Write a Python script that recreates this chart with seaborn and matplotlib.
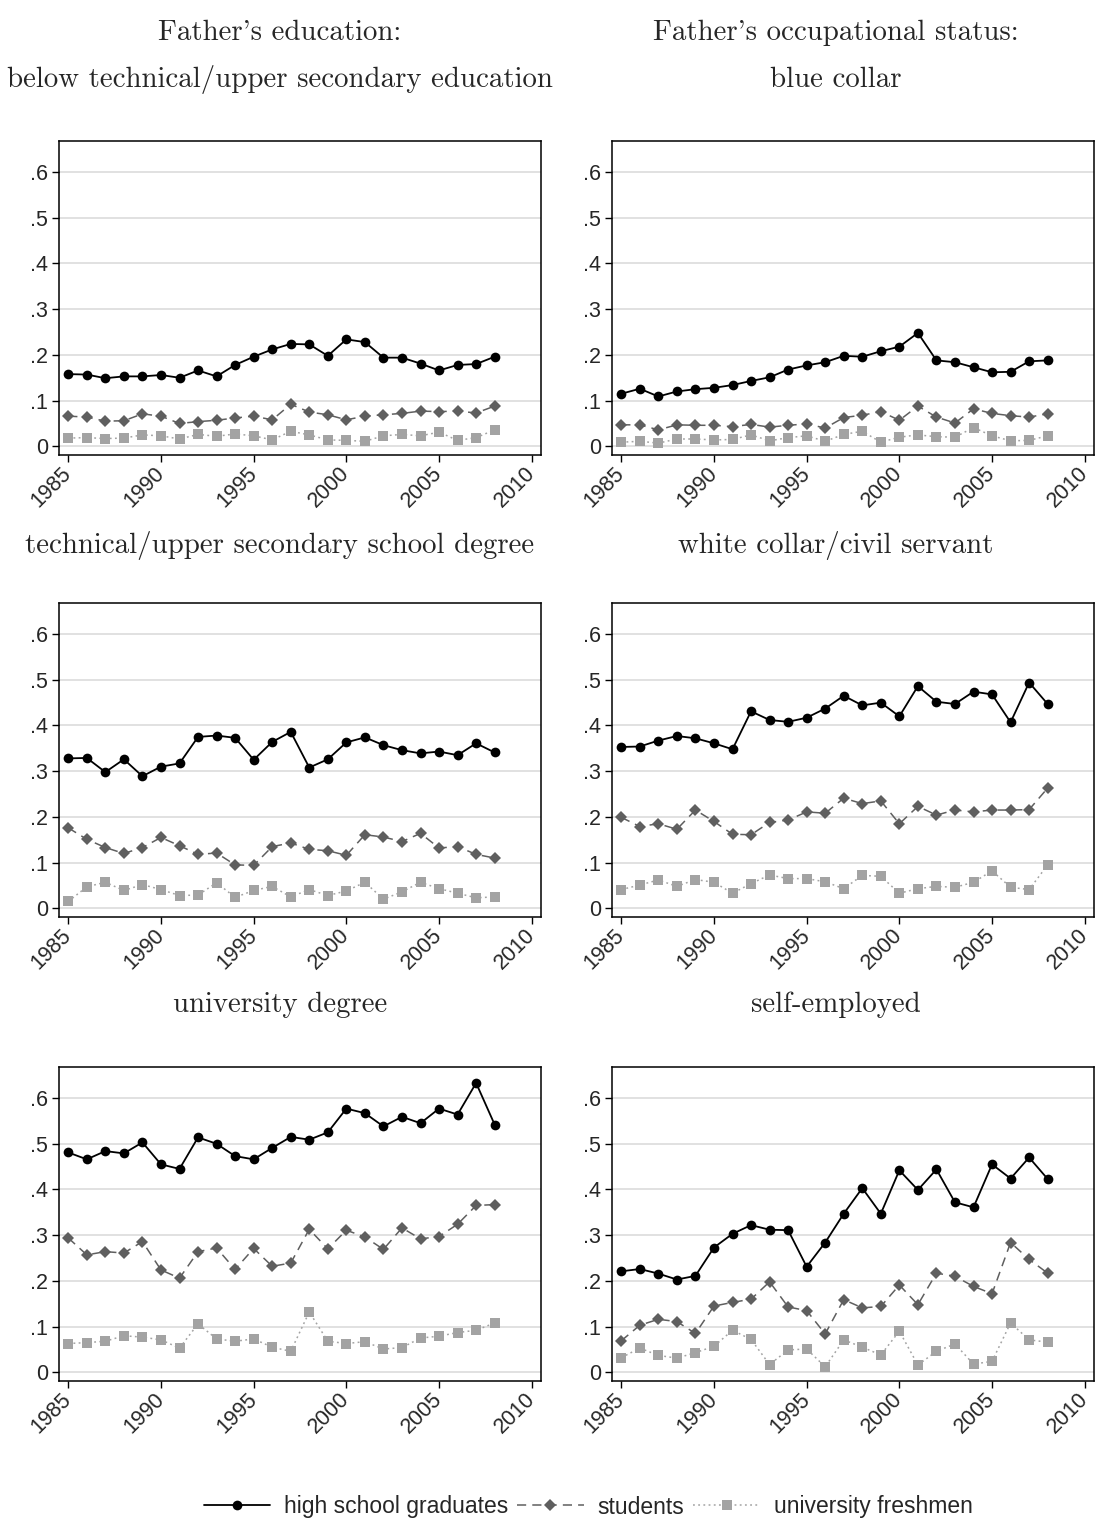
import numpy as np
import pandas as pd
import matplotlib
matplotlib.use("Agg")
import matplotlib.pyplot as plt
import seaborn as sns

years = list(range(1985, 2009))

# Father's education: below technical/upper secondary education
hs_below = [.158, .157, .149, .153, .153, .156, .150, .166, .153, .178, .196, .212,
            .224, .223, .198, .234, .228, .194, .194, .181, .166, .178, .180, .196]
st_below = [.066, .064, .055, .056, .071, .066, .050, .054, .057, .062, .066, .058,
            .092, .075, .069, .058, .066, .069, .072, .077, .076, .077, .073, .088]
fr_below = [.018, .019, .017, .018, .025, .023, .016, .026, .022, .027, .023, .014,
            .033, .025, .014, .013, .011, .023, .026, .023, .031, .013, .019, .036]

# Father's education: technical/upper secondary school degree
hs_tech = [.328, .329, .298, .326, .289, .310, .317, .375, .378, .373, .325, .364,
           .386, .308, .326, .363, .374, .357, .346, .339, .343, .335, .361, .341]
st_tech = [.176, .151, .133, .120, .133, .155, .137, .118, .121, .095, .094, .135,
           .143, .129, .126, .116, .161, .156, .146, .164, .132, .135, .118, .110]
fr_tech = [.015, .047, .057, .039, .052, .041, .028, .029, .056, .024, .039, .048,
           .025, .041, .028, .038, .057, .020, .036, .057, .043, .033, .023, .025]

# Father's education: university degree
hs_univ = [.481, .466, .484, .479, .503, .455, .445, .514, .500, .473, .466, .491,
           .515, .509, .525, .577, .567, .538, .559, .545, .577, .564, .633, .542]
st_univ = [.294, .257, .264, .261, .286, .224, .206, .264, .272, .225, .271, .232,
           .239, .313, .270, .311, .296, .269, .316, .292, .297, .324, .365, .367]
fr_univ = [.063, .065, .068, .080, .077, .071, .053, .106, .073, .068, .073, .055,
           .046, .132, .068, .063, .067, .051, .054, .075, .079, .087, .092, .108]

# Father's occupational status: blue collar
hs_blue = [.115, .126, .109, .120, .125, .128, .134, .143, .151, .168, .177, .184,
           .198, .196, .208, .218, .248, .188, .184, .173, .162, .163, .186, .188]
st_blue = [.047, .047, .036, .047, .046, .046, .043, .048, .042, .046, .049, .040,
           .063, .068, .076, .057, .088, .064, .051, .082, .072, .067, .064, .071]
fr_blue = [.009, .011, .007, .016, .016, .014, .015, .025, .012, .019, .023, .011,
           .026, .033, .009, .020, .025, .021, .020, .041, .023, .012, .013, .023]

# Father's occupational status: white collar/civil servant
hs_white = [.353, .354, .367, .377, .372, .361, .348, .431, .412, .408, .417, .437,
            .465, .444, .450, .420, .486, .452, .447, .474, .468, .407, .494, .447]
st_white = [.199, .179, .185, .173, .215, .190, .162, .161, .188, .193, .211, .208,
            .241, .229, .235, .185, .223, .204, .215, .211, .215, .215, .216, .263]
fr_white = [.041, .051, .062, .048, .063, .057, .033, .054, .073, .065, .065, .058,
            .043, .072, .070, .033, .043, .048, .046, .057, .082, .046, .041, .095]

# Father's occupational status: self-employed
hs_self = [.221, .226, .216, .203, .211, .273, .303, .322, .312, .311, .231, .284,
           .347, .403, .347, .442, .399, .444, .372, .361, .455, .424, .470, .423]
st_self = [.069, .103, .116, .111, .085, .145, .153, .160, .198, .143, .135, .084,
           .159, .141, .144, .191, .148, .217, .210, .188, .172, .284, .247, .217]
fr_self = [.032, .053, .037, .031, .043, .057, .092, .072, .017, .049, .051, .012,
           .071, .055, .038, .090, .016, .046, .062, .018, .024, .108, .071, .066]

group_labels = ["high school graduates", "students", "university freshmen"]
panel_titles = [
    "below technical/upper secondary education", "blue collar",
    "technical/upper secondary school degree", "white collar/civil servant",
    "university degree", "self-employed",
]
# cmr10 draws the ASCII quote as a typographic apostrophe
column_headers = ["Father's education:", "Father's occupational status:"]
panel_series = [
    (hs_below, st_below, fr_below), (hs_blue, st_blue, fr_blue),
    (hs_tech, st_tech, fr_tech), (hs_white, st_white, fr_white),
    (hs_univ, st_univ, fr_univ), (hs_self, st_self, fr_self),
]
y_ticks = [0, .1, .2, .3, .4, .5, .6]
y_ticklabels = ["0", ".1", ".2", ".3", ".4", ".5", ".6"]
x_ticks = [1985, 1990, 1995, 2000, 2005, 2010]

sns.set_theme(style="white")
plt.rcParams["font.family"] = ["Liberation Sans", "DejaVu Sans"]

W, H = 1097, 1523
fig = plt.figure(figsize=(W / 100, H / 100), dpi=100)
fig.patch.set_facecolor("white")

styles = [
    dict(color="black", marker="o", linestyle="-", markersize=7, lw=1.3),
    dict(color="#5f5f5f", marker="D", linestyle=(0, (6, 4)), markersize=6.5, lw=1.1),
    dict(color="#a3a3a3", marker="s", linestyle=(0, (1.2, 2.2)), markersize=6.5, lw=1.1),
]

col_left = [59, 612]
row_top = [141, 603, 1067]
ax_w, ax_h = 482, 314
title_cx = [280, 836]
subtitle_y = [80, 545, 1005]

axes = []
for i, series in enumerate(panel_series):
    r, c = divmod(i, 2)
    left = col_left[c] / W
    bottom = 1 - (row_top[r] + ax_h) / H
    ax = fig.add_axes([left, bottom, ax_w / W, ax_h / H])
    axes.append(ax)
    df = pd.DataFrame({"year": years * 3,
                       "share": list(series[0]) + list(series[1]) + list(series[2]),
                       "group": sum([[g] * len(years) for g in group_labels], [])})
    for g, st in zip(group_labels, styles):
        sub = df[df["group"] == g]
        sns.lineplot(data=sub, x="year", y="share", ax=ax, color=st["color"],
                     marker=st["marker"], linestyle=st["linestyle"],
                     markersize=st["markersize"], linewidth=st["lw"],
                     markeredgewidth=0, label=g, legend=False)
    ax.set_xlim(1984.5, 2010.5)
    ax.set_ylim(-0.019, 0.668)
    ax.set_yticks(y_ticks)
    ax.set_yticklabels(y_ticklabels, fontsize=15.5)
    ax.set_xticks(x_ticks)
    ax.set_xticklabels([str(t) for t in x_ticks], fontsize=15.5, rotation=45,
                       ha="right", va="center", rotation_mode="anchor")
    ax.set_xlabel("")
    ax.set_ylabel("")
    ax.grid(axis="y", color="#dcdcdc", linewidth=1.2)
    ax.grid(axis="x", visible=False)
    ax.set_axisbelow(True)
    ax.tick_params(axis="y", which="major", direction="out", length=5,
                   width=1, color="black", pad=3, left=True)
    ax.tick_params(axis="x", which="major", direction="out", length=5,
                   width=1, color="black", pad=6, bottom=True)
    for sp in ax.spines.values():
        sp.set_visible(True)
        sp.set_color("black")
        sp.set_linewidth(1.1)
    fig.text(title_cx[c] / W, 1 - subtitle_y[r] / H, panel_titles[i],
             ha="center", va="center", fontsize=20.8, family="cmr10")

for c in range(2):
    fig.text(title_cx[c] / W, 1 - 33 / H, column_headers[c],
             ha="center", va="center", fontsize=20.8, family="cmr10")

handles, labels = axes[0].get_legend_handles_labels()
fig.legend(handles, labels, loc="center", bbox_to_anchor=(588 / W, 1 - 1507 / H),
           ncol=3, frameon=False, fontsize=16.5, handlelength=2.9,
           handletextpad=0.6, columnspacing=0.4)

fig.savefig("out.png", dpi=100, facecolor="white")
